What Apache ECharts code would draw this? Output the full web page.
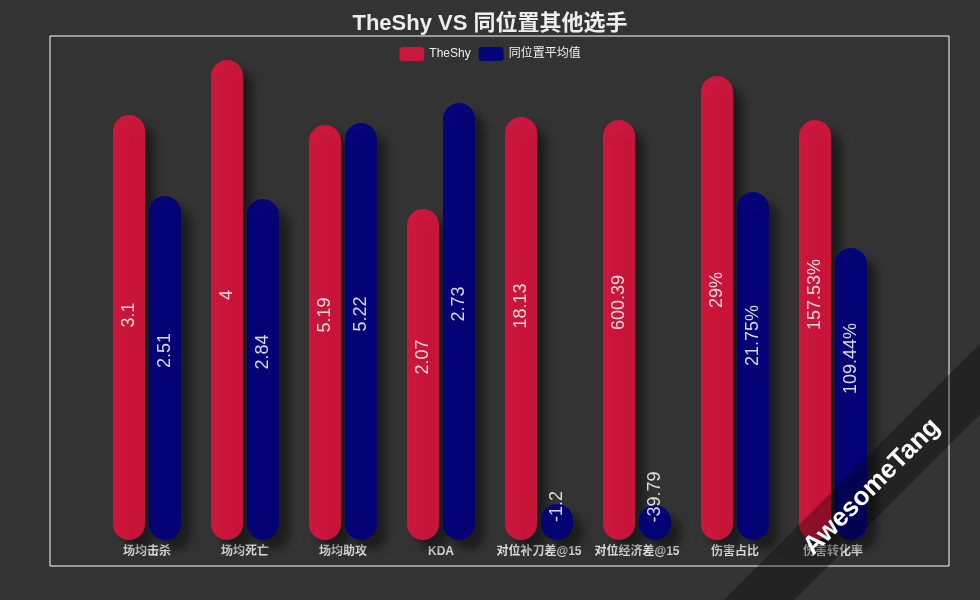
<!DOCTYPE html>
<html>
<head>
<meta charset="utf-8">
<script src="https://cdn.jsdelivr.net/npm/echarts@6/dist/echarts.min.js"></script>
<style>html,body{margin:0;padding:0;background:#333;}#main{width:980px;height:600px;}</style>
</head>
<body>
<div id="main"></div>
<script>
var categories = ['场均击杀', '场均死亡', '场均助攻', 'KDA', '对位补刀差@15', '对位经济差@15', '伤害占比', '伤害转化率'];
// normalized bar scores
var theShyScores = [85, 96, 83, 66.2, 84.6, 84, 92.8, 84];
var avgScores = [68.8, 68.2, 83.4, 87.4, 7.2, 7, 69.6, 58.4];
// displayed values
var theShyLabels = ['3.1', '4', '5.19', '2.07', '18.13', '600.39', '29%', '157.53%'];
var avgLabels = ['2.51', '2.84', '5.22', '2.73', '-1.2', '-39.79', '21.75%', '109.44%'];

var FONT = "'Liberation Sans', 'Noto Sans CJK SC', sans-serif";
var chart = echarts.init(document.getElementById('main'), null, {renderer: 'canvas'});

function labelOpt(arr) {
  return {
    show: true,
    position: 'inside',
    rotate: 90,
    align: 'left',
    verticalAlign: 'middle',
    color: '#eee',
    fontSize: 18,
    fontFamily: FONT,
    formatter: function (p) { return arr[p.dataIndex]; }
  };
}
function itemOpt(color) {
  return {
    color: color,
    opacity: 0.9,
    borderRadius: 16,
    shadowColor: 'rgba(0,0,0,0.5)',
    shadowBlur: 10,
    shadowOffsetX: 10,
    shadowOffsetY: 10
  };
}

chart.setOption({
  backgroundColor: '#333',
  animation: false,
  title: {
    text: 'TheShy VS 同位置其他选手',
    left: 'center',
    top: 8,
    textStyle: {color: '#eee', fontSize: 22, fontWeight: 'bold', fontFamily: FONT}
  },
  legend: {
    top: 42,
    left: 'center',
    itemWidth: 25,
    itemHeight: 14,
    textStyle: {color: '#eee', fontSize: 12, fontFamily: FONT},
    data: ['TheShy', '同位置平均值']
  },
  grid: {left: '10%', right: '10%', top: 40, bottom: 60},
  xAxis: {
    type: 'category',
    data: categories,
    axisLine: {show: false},
    axisTick: {show: false},
    axisLabel: {color: '#ddd', fontSize: 12, fontWeight: 'bold', margin: 6, fontFamily: FONT, interval: 0}
  },
  yAxis: {
    type: 'value',
    min: 0,
    max: 100,
    show: false,
    splitLine: {show: false}
  },
  graphic: [
    {
      type: 'rect',
      shape: {x: 50, y: 36, width: 899, height: 530},
      style: {fill: 'none', stroke: '#fff', lineWidth: 1},
      z: 0
    },
    {
      type: 'group',
      x: 872,
      y: 487,
      rotation: Math.PI / 4,
      z: 100,
      children: [
        {
          type: 'rect',
          shape: {x: -200, y: -25, width: 400, height: 50},
          style: {fill: 'rgba(0,0,0,0.3)'},
          z: 100
        },
        {
          type: 'text',
          x: 0,
          y: 0,
          style: {
            text: 'AwesomeTang',
            font: "bold 26px 'Liberation Sans', sans-serif",
            fill: '#fff',
            align: 'center',
            verticalAlign: 'middle',
            textAlign: 'center',
            textVerticalAlign: 'middle'
          },
          z: 101
        }
      ]
    }
  ],
  series: [
    {
      name: 'TheShy',
      type: 'bar',
      data: theShyScores,
      barWidth: 32,
      barGap: '12.5%',
      itemStyle: itemOpt('crimson'),
      label: labelOpt(theShyLabels)
    },
    {
      name: '同位置平均值',
      type: 'bar',
      data: avgScores,
      barWidth: 32,
      barGap: '12.5%',
      itemStyle: itemOpt('navy'),
      label: labelOpt(avgLabels)
    }
  ]
});
</script>
</body>
</html>
